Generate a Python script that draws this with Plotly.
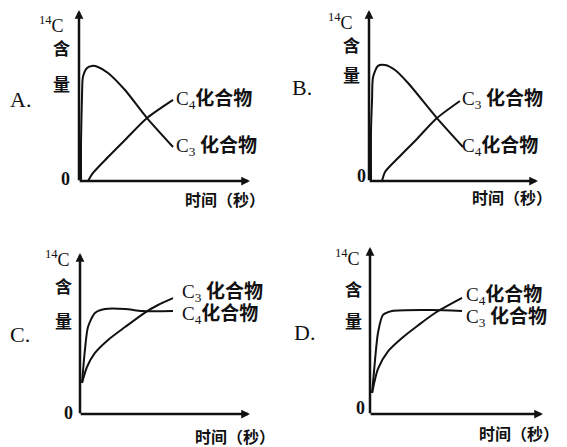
import plotly.graph_objects as go

W, H = 567, 447

# ---- data (arbitrary units, x: time, y: 14C content) ----
A_c3_x = [0.12, 0.12, 0.18, 0.23, 0.47, 0.76, 1.11, 1.7, 2.69, 3.98, 5.5]
A_c3_y = [0.0, 2.4, 5.15, 6.08, 6.61, 6.73, 6.67, 6.32, 5.32, 3.68, 1.99]
A_c4_x = [0.53, 0.82, 1.7, 2.69, 3.98, 5.5]
A_c4_y = [0.0, 0.47, 1.4, 2.4, 3.68, 4.74]

B_c4_x = [0.12, 0.12, 0.18, 0.24, 0.53, 0.95, 1.54, 2.31, 4.02, 5.56]
B_c4_y = [0.0, 2.98, 4.74, 6.08, 6.73, 6.78, 6.49, 5.73, 3.68, 1.99]
B_c3_x = [0.77, 0.95, 1.78, 2.78, 4.02, 5.38]
B_c3_y = [0.0, 0.53, 1.4, 2.4, 3.68, 4.68]

C_c4_x = [0.12, 0.29, 0.47, 0.88, 1.47, 2.65, 3.65, 5.47]
C_c4_y = [1.93, 3.98, 5.4, 6.27, 6.52, 6.52, 6.4, 6.4]
C_c3_x = [0.12, 0.41, 0.88, 1.65, 2.65, 3.82, 4.59, 5.47]
C_c3_y = [1.93, 2.92, 3.79, 4.6, 5.4, 6.3, 6.77, 7.2]

D_c3_x = [0.12, 0.29, 0.46, 0.75, 1.27, 3.58, 5.32]
D_c3_y = [1.26, 3.23, 4.85, 5.93, 6.17, 6.23, 6.17]
D_c4_x = [0.12, 0.46, 1.04, 1.85, 2.77, 3.76, 5.32]
D_c4_y = [1.26, 2.7, 3.75, 4.55, 5.3, 6.05, 6.95]

panel_letters = ["A.", "B.", "C.", "D."]
y_title = ["<sup>14</sup>C", "含", "量"]
x_title = "时间（秒）"
label_c3 = "C<sub>3</sub> 化合物"
label_c4 = "C<sub>4</sub>化合物"

# ---- layout geometry (pixels) ----
boxes = [(79, 250, 181, 10), (369, 538, 181, 10), (80, 250, 414, 253), (370, 543, 414, 247)]

def fx(p):
    return p / W

def fy(p):
    return 1 - p / H

fig = go.Figure()
layout = dict(width=W, height=H, margin=dict(l=0, r=0, t=0, b=0),
              paper_bgcolor="white", plot_bgcolor="rgba(0,0,0,0)", showlegend=False)

for i, (x0, x1, yb, yt) in enumerate(boxes):
    n = "" if i == 0 else str(i + 1)
    layout["xaxis" + n] = dict(domain=[fx(x0), fx(x1)], range=[0, 10], visible=False,
                               anchor="y" + n, fixedrange=True)
    layout["yaxis" + n] = dict(domain=[fy(yb), fy(yt)], range=[0, 10], visible=False,
                               anchor="x" + n, fixedrange=True)
fig.update_layout(**layout)

series = [
    (A_c3_x, A_c3_y, 0), (A_c4_x, A_c4_y, 0),
    (B_c4_x, B_c4_y, 1), (B_c3_x, B_c3_y, 1),
    (C_c4_x, C_c4_y, 2), (C_c3_x, C_c3_y, 2),
    (D_c3_x, D_c3_y, 3), (D_c4_x, D_c4_y, 3),
]
for xs, ys, i in series:
    n = "" if i == 0 else str(i + 1)
    fig.add_trace(go.Scatter(x=xs, y=ys, mode="lines", xaxis="x" + n, yaxis="y" + n,
                             line=dict(color="#111", width=2, shape="spline", smoothing=0.7),
                             cliponaxis=False, hoverinfo="skip"))

ann = []
for i in range(4):
    n = "" if i == 0 else str(i + 1)
    common = dict(xref="x" + n, yref="y" + n, axref="x" + n, ayref="y" + n, text="",
                  showarrow=True, arrowhead=2, arrowsize=0.7, arrowwidth=2.5, arrowcolor="#111")
    ann.append(dict(x=10, y=0, ax=-0.05, ay=0, **common))
    ann.append(dict(x=0, y=10, ax=0, ay=-0.05, **common))

serif = "Liberation Serif, Noto Sans CJK SC"
cjk = "Noto Sans CJK SC, Liberation Serif"

def txt(x, y, t, size, fam, xa="center", bold=False):
    ann.append(dict(x=fx(x), y=fy(y), xref="paper", yref="paper", text=("<b>%s</b>" % t) if bold else t,
                    showarrow=False, xanchor=xa, yanchor="middle",
                    font=dict(size=size, family=fam, color="#111")))

curve_labels = [
    (label_c4, 174, 100), (label_c3, 174, 147),
    (label_c3, 460, 100), (label_c4, 460, 147),
    (label_c3, 180, 293), (label_c4, 180, 315),
    (label_c4, 464, 296), (label_c3, 464, 318),
]
for t, x, y in curve_labels:
    ann.append(dict(x=fx(x), y=fy(y), xref="paper", yref="paper",
                    text=t.replace("化合物", "<b>化合物</b>"), showarrow=False,
                    xanchor="left", yanchor="middle",
                    font=dict(size=19, family=serif, color="#111")))

pos = [
    dict(c14=(66, 25), han=(61, 48), liang=(61, 84), let=(8, 99), zero=(65, 179), xt=(183, 199)),
    dict(c14=(355, 22), han=(351, 45), liang=(351, 74), let=(290, 87), zero=(361, 176), xt=(470, 197)),
    dict(c14=(72, 258), han=(63, 285), liang=(63, 320), let=(8, 334), zero=(68, 413), xt=(193, 436)),
    dict(c14=(362, 257), han=(353, 288), liang=(353, 320), let=(292, 332), zero=(360, 408), xt=(477, 433)),
]
for i, p in enumerate(pos):
    ann.append(dict(x=fx(p["c14"][0]), y=fy(p["c14"][1]), xref="paper", yref="paper",
                    text=y_title[0], showarrow=False, xanchor="right", yanchor="middle",
                    font=dict(size=18, family=serif, color="#111")))
    txt(p["han"][0], p["han"][1], y_title[1], 17, cjk, bold=True)
    txt(p["liang"][0], p["liang"][1], y_title[2], 17, cjk, bold=True)
    txt(p["let"][0], p["let"][1], panel_letters[i], 22, serif, xa="left")
    txt(p["zero"][0], p["zero"][1], "0", 18, serif, bold=True)
    txt(p["xt"][0], p["xt"][1], x_title, 16, cjk, xa="left", bold=True)

fig.update_layout(annotations=ann)
fig.write_html("out.html", config={"displayModeBar": False, "staticPlot": True},
               post_script="document.body.style.margin='0';document.body.style.overflow='hidden';")
